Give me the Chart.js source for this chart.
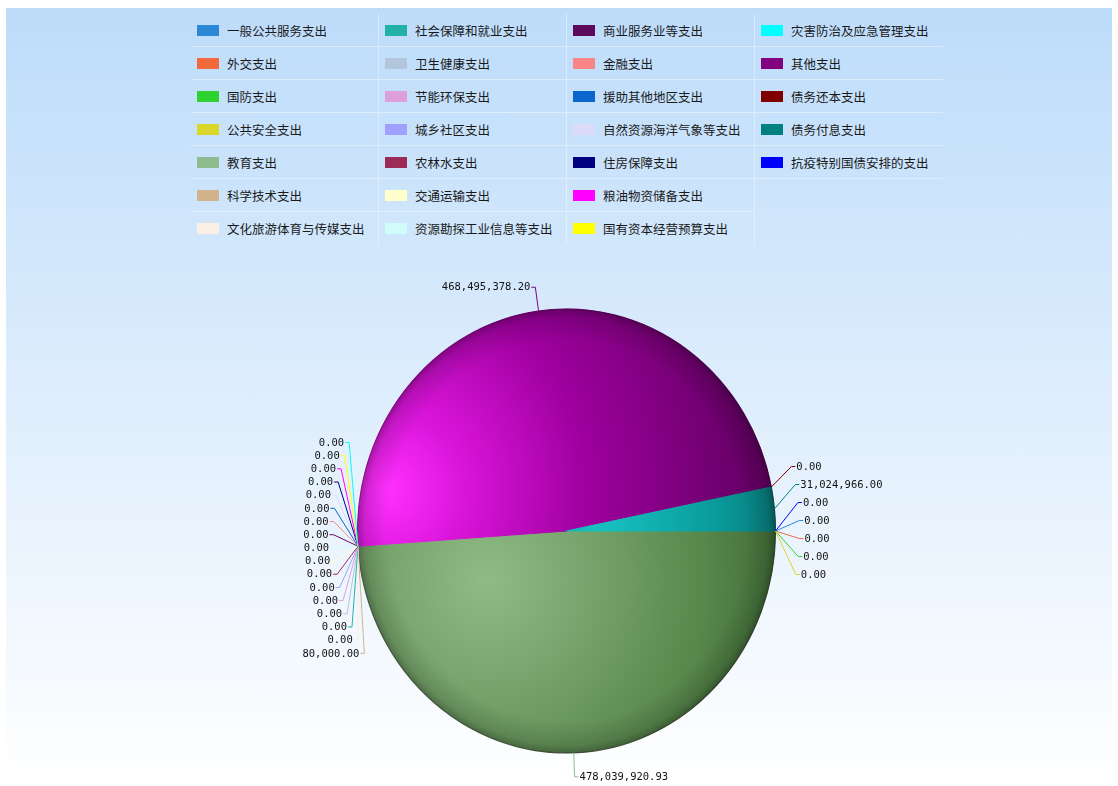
<!DOCTYPE html>
<html>
<head>
<meta charset="utf-8">
<script src="https://cdn.jsdelivr.net/npm/chart.js@4/dist/chart.umd.min.js"></script>
<style>
  html, body { margin: 0; padding: 0; background: #ffffff; width: 1118px; height: 786px; overflow: hidden; }
  #panel { position: absolute; left: 6px; top: 8px; width: 1106px; height: 778px;
           background: linear-gradient(to bottom, #bddcfa 0%, #ffffff 100%); }
  #legend { position: absolute; left: 191px; top: 14px; display: grid;
            grid-template-columns: repeat(4, 188px); grid-template-rows: repeat(7, 33px);
            grid-auto-flow: column; font-family: "Noto Sans CJK SC", sans-serif; font-size: 12.5px; color: #1a1a1a; }
  .item { display: flex; align-items: center; box-sizing: border-box;
          border-bottom: 1px solid rgba(255,255,255,0.4); border-right: 1px solid rgba(255,255,255,0.4); }
  .item.lastcol { border-right: none; }
  .item.lastrow { border-bottom: none; }
  .sw { width: 22px; height: 11px; margin-left: 6px; margin-right: 8px; flex: none; }
  canvas { position: absolute; left: 0; top: 0; }
</style>
</head>
<body>
<div id="panel"></div>
<div id="legend"></div>
<canvas id="chart" width="1118" height="786"></canvas>
<script>
// Expenditure categories, in budget-classification order
const categories = [
  '一般公共服务支出', '外交支出', '国防支出', '公共安全支出', '教育支出', '科学技术支出', '文化旅游体育与传媒支出',
  '社会保障和就业支出', '卫生健康支出', '节能环保支出', '城乡社区支出', '农林水支出', '交通运输支出', '资源勘探工业信息等支出',
  '商业服务业等支出', '金融支出', '援助其他地区支出', '自然资源海洋气象等支出', '住房保障支出', '粮油物资储备支出', '国有资本经营预算支出',
  '灾害防治及应急管理支出', '其他支出', '债务还本支出', '债务付息支出', '抗疫特别国债安排的支出'
];

// Amounts (yuan)
const amounts = [
  0, 0, 0, 0, 478039920.93, 80000.00, 0,
  0, 0, 0, 0, 0, 0, 0,
  0, 0, 0, 0, 0, 0, 0,
  0, 468495378.20, 0, 31024966.00, 0
];

// One colour per category
const palette = [
  '#2a88d6', '#f2693c', '#2fd12f', '#dbd62a', '#8fbc8f', '#d2b48c', '#fbeee4',
  '#22b2a5', '#b4c5de', '#dda0dd', '#a0a0ff', '#9e2a58', '#ffffcc', '#d0fdfb',
  '#5e0a5c', '#f88686', '#0a66cc', '#dcdcfa', '#000080', '#ff00ff', '#ffff00',
  '#00ffff', '#800080', '#800000', '#008080', '#0000ff'
];

// Spherical shading for the larger slices (focus in radius units from the centre)
const shading = {
  '教育支出': { focus: [-0.38, 0.22], reach: 1.5,
    stops: [[0, '#8fbb86'], [0.3, '#79a66e'], [0.7, '#57874b'], [1, '#3a6531']] },
  '其他支出': { focus: [-0.86, -0.18], reach: 1.75,
    stops: [[0, '#ff30ff'], [0.22, '#d814d8'], [0.55, '#9e009e'], [1, '#640064']] },
  '债务付息支出': { focus: [0.15, -0.05], reach: 1.0,
    stops: [[0, '#18c2c2'], [0.55, '#0a9c9c'], [1, '#066a6a']] }
};

const squash = 222.5 / 209.5;   // vertical stretch of the pie

const fmt = v => v.toLocaleString('en-US', { minimumFractionDigits: 2, maximumFractionDigits: 2 });

// Legend: four columns of seven rows, filled column by column
(function buildLegend() {
  const box = document.getElementById('legend');
  const rows = 7, cols = Math.ceil(categories.length / rows);
  categories.forEach((name, i) => {
    const col = Math.floor(i / rows), row = i % rows;
    const cell = document.createElement('div');
    cell.className = 'item' + (col === cols - 1 ? ' lastcol' : '') + (row === rows - 1 ? ' lastrow' : '');
    const sw = document.createElement('span');
    sw.className = 'sw';
    sw.style.background = palette[i];
    const tx = document.createElement('span');
    tx.textContent = name;
    cell.appendChild(sw);
    cell.appendChild(tx);
    box.appendChild(cell);
  });
})();

function sliceFill(context) {
  const i = context.dataIndex;
  const sh = shading[categories[i]];
  const area = context.chart.chartArea;
  if (!sh || !area) return palette[i];
  const cx = (area.left + area.right) / 2, cy = (area.top + area.bottom) / 2;
  const r = Math.min(area.width, area.height) / 2;
  const fx = cx + sh.focus[0] * r, fy = cy + sh.focus[1] * r;
  const g = context.chart.ctx.createRadialGradient(fx, fy, 0, fx, fy, sh.reach * r);
  sh.stops.forEach(([o, c]) => g.addColorStop(o, c));
  return g;
}

// Stretch the pie vertically and add a darker rim
const ellipsePie = {
  id: 'ellipsePie',
  beforeDatasetsDraw(chart) {
    const arc = chart.getDatasetMeta(0).data[0];
    const ctx = chart.ctx;
    ctx.save();
    ctx.translate(arc.x, arc.y);
    ctx.scale(1, squash);
    ctx.translate(-arc.x, -arc.y);
  },
  afterDatasetsDraw(chart) {
    const arc = chart.getDatasetMeta(0).data[0];
    const ctx = chart.ctx;
    const cx = arc.x, cy = arc.y, r = arc.outerRadius;
    const rim = ctx.createRadialGradient(cx, cy, 0, cx, cy, r);
    rim.addColorStop(0, 'rgba(0,0,0,0)');
    rim.addColorStop(0.86, 'rgba(0,0,0,0)');
    rim.addColorStop(0.965, 'rgba(0,0,0,0.13)');
    rim.addColorStop(1, 'rgba(0,0,0,0.3)');
    ctx.beginPath();
    ctx.arc(cx, cy, r, 0, Math.PI * 2);
    ctx.fillStyle = rim;
    ctx.fill();
    ctx.lineWidth = 1;
    ctx.strokeStyle = 'rgba(30,0,30,0.4)';
    ctx.stroke();
    ctx.restore();
  }
};

// Value labels with leader lines, spread apart on each side of the pie
const sliceLabels = {
  id: 'sliceLabels',
  afterDraw(chart) {
    const arcs = chart.getDatasetMeta(0).data;
    const ctx = chart.ctx;
    const cx = arcs[0].x, cy = arcs[0].y;
    const rx = arcs[0].outerRadius, ry = rx * squash;
    const ext = 24, Rx = rx + ext, Ry = ry + ext;
    const step = 18, maxSpread = 0.95 * ry;

    const items = arcs.map((arc, i) => {
      const mid = (arc.startAngle + arc.endAngle) / 2;
      const c = Math.cos(mid), s = Math.sin(mid);
      return { i, left: c < -1e-9, ax: cx + rx * c, ay: cy + ry * s, y0: cy + Ry * s };
    });

    [true, false].forEach(leftSide => {
      const list = items.filter(it => it.left === leftSide);
      list.sort((a, b) => (a.y0 - b.y0) || (leftSide ? b.i - a.i : a.i - b.i));
      const gapFor = n => n > 1 ? Math.min(step, maxSpread / (n - 1)) : step;
      const place = c => {
        const n = c.items.length, g = gapFor(n);
        const mean = c.items.reduce((s, it) => s + it.y0, 0) / n;
        c.gap = g;
        c.top = mean - g * (n - 1) / 2;
        c.bottom = c.top + g * (n - 1);
      };
      let clusters = list.map(it => ({ items: [it] }));
      clusters.forEach(place);
      let merged = true;
      while (merged) {
        merged = false;
        for (let k = 0; k < clusters.length - 1; k++) {
          if (clusters[k + 1].top - clusters[k].bottom < step) {
            clusters[k].items = clusters[k].items.concat(clusters[k + 1].items);
            clusters.splice(k + 1, 1);
            place(clusters[k]);
            merged = true;
            break;
          }
        }
      }
      clusters.forEach(c => c.items.forEach((it, k) => { it.y = c.top + k * c.gap; }));
    });

    ctx.save();
    ctx.font = '10.5px "DejaVu Sans Mono", monospace';
    ctx.textBaseline = 'middle';
    ctx.lineWidth = 1;
    items.forEach(it => {
      const t = Math.max(-1, Math.min(1, (it.y - cy) / Ry));
      const dir = it.left ? -1 : 1;
      const ex = cx + dir * Rx * Math.sqrt(1 - t * t);
      ctx.strokeStyle = palette[it.i];
      ctx.beginPath();
      ctx.moveTo(it.ax, it.ay);
      ctx.lineTo(ex, it.y);
      ctx.lineTo(ex + dir * 4, it.y);
      ctx.stroke();
      ctx.fillStyle = '#111111';
      ctx.textAlign = it.left ? 'right' : 'left';
      ctx.fillText(fmt(amounts[it.i]), ex + dir * 5, it.y + 0.5);
    });
    ctx.restore();
  }
};

new Chart(document.getElementById('chart'), {
  type: 'pie',
  data: {
    labels: categories,
    datasets: [{
      data: amounts,
      backgroundColor: sliceFill,
      // a hairline in the slice's own fill hides the seams between shaded slices
      borderColor: sliceFill,
      borderWidth: ctx => shading[categories[ctx.dataIndex]] ? 1 : 0,
      hoverOffset: 0,
      offset: 0
    }]
  },
  options: {
    responsive: false,
    animation: false,
    events: [],
    rotation: 90,
    layout: { padding: { left: 357, right: 342, top: 321, bottom: 45 } },
    plugins: { legend: { display: false }, tooltip: { enabled: false }, title: { display: false } }
  },
  plugins: [ellipsePie, sliceLabels]
});
</script>
</body>
</html>
